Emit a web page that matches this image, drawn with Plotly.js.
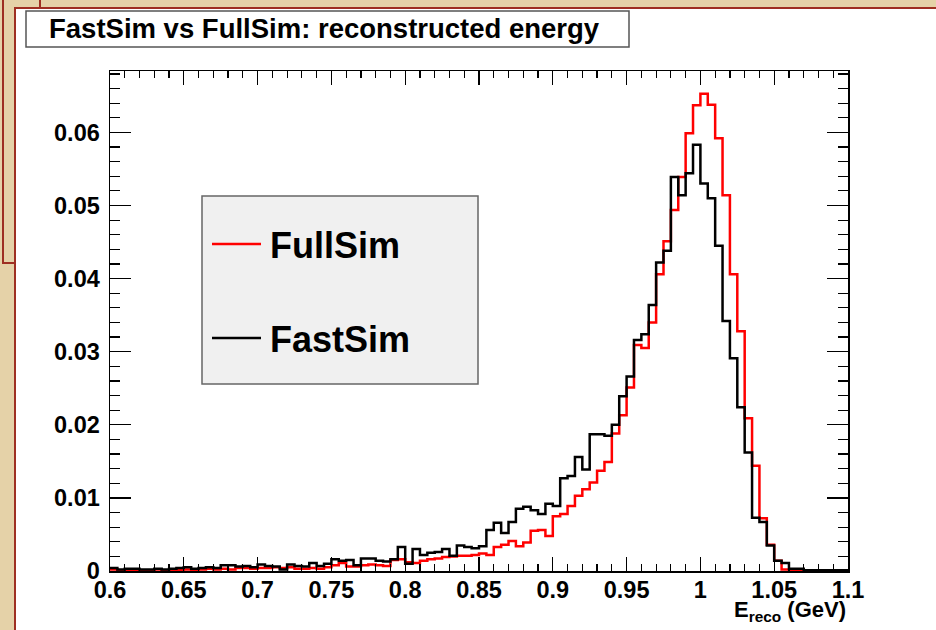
<!DOCTYPE html>
<html>
<head>
<meta charset="utf-8">
<script src="https://cdn.plot.ly/plotly-3.0.1.min.js"></script>
<style>
  html, body { margin: 0; padding: 0; background: #e5d2a8; }
  #chart { width: 936px; height: 630px; }
</style>
</head>
<body>
<div id="chart"></div>
<script>
// Histogram binning: 100 bins from 0.6 to 1.1 GeV
const binLow = 0.6;
const binWidth = 0.005;

// FullSim (red) bin contents
const fullSim = [
  0.0002, 0.0001, 0.0001, 0.0001, 0.0001, 0.0001, 0.0002, 0.0001, 0.0001, 0.0001,
  0.0002, 0.0001, 0.0002, 0.0003, 0.0002, 0.0003, 0.0002, 0.0004, 0.0004, 0.0003,
  0.0004, 0.0004, 0.0005, 0.0004, 0.0005, 0.0003, 0.0003, 0.0004, 0.0003, 0.0005,
  0.0008, 0.0011, 0.0006, 0.0006, 0.0008, 0.0009, 0.0008, 0.0007, 0.0015, 0.0016,
  0.0012, 0.0011, 0.0014, 0.0016, 0.0017, 0.0019, 0.0020, 0.0021, 0.0021, 0.0022,
  0.0024, 0.0022, 0.0033, 0.0036, 0.0041, 0.0034, 0.0039, 0.0055, 0.0056, 0.0048,
  0.0075, 0.0078, 0.0089, 0.0103, 0.0112, 0.0121, 0.0137, 0.0149, 0.0188, 0.0213,
  0.0251, 0.0309, 0.0305, 0.0340, 0.0406, 0.0451, 0.0494, 0.0539, 0.0599, 0.0637,
  0.0653, 0.0638, 0.0592, 0.0514, 0.0406, 0.0328, 0.0209, 0.0144, 0.0072, 0.0036,
  0.0014, 0.0002, 0.0001, 0.0001, 0.0001, 0.0001, 0.0000, 0.0000, 0.0000, 0.0000
];

// FastSim (black) bin contents
const fastSim = [
  0.0004, 0.0002, 0.0003, 0.0003, 0.0002, 0.0002, 0.0003, 0.0002, 0.0003, 0.0004,
  0.0005, 0.0003, 0.0004, 0.0005, 0.0004, 0.0008, 0.0008, 0.0006, 0.0007, 0.0005,
  0.0009, 0.0007, 0.0006, 0.0002, 0.0009, 0.0007, 0.0006, 0.0011, 0.0007, 0.0010,
  0.0016, 0.0014, 0.0015, 0.0008, 0.0017, 0.0017, 0.0014, 0.0013, 0.0016, 0.0033,
  0.0010, 0.0030, 0.0022, 0.0025, 0.0026, 0.0030, 0.0021, 0.0035, 0.0033, 0.0031,
  0.0034, 0.0056, 0.0066, 0.0052, 0.0067, 0.0085, 0.0088, 0.0083, 0.0078, 0.0092,
  0.0089, 0.0127, 0.0130, 0.0156, 0.0139, 0.0187, 0.0187, 0.0185, 0.0200, 0.0239,
  0.0266, 0.0316, 0.0324, 0.0364, 0.0422, 0.0438, 0.0539, 0.0514, 0.0544, 0.0583,
  0.0530, 0.0510, 0.0445, 0.0342, 0.0291, 0.0224, 0.0162, 0.0073, 0.0067, 0.0035,
  0.0014, 0.0011, 0.0003, 0.0003, 0.0001, 0.0001, 0.0001, 0.0001, 0.0001, 0.0001
];

const xTickVals = [0.6, 0.65, 0.7, 0.75, 0.8, 0.85, 0.9, 0.95, 1.0, 1.05, 1.1];
const xTickText = ["0.6", "0.65", "0.7", "0.75", "0.8", "0.85", "0.9", "0.95", "1", "1.05", "1.1"];
const yTickVals = [0, 0.01, 0.02, 0.03, 0.04, 0.05, 0.06];
const yTickText = ["0", "0.01", "0.02", "0.03", "0.04", "0.05", "0.06"];

const titleText = "FastSim vs FullSim: reconstructed energy";
const xTitleText = "E<sub>reco</sub> (GeV)";
const seriesNames = ["FullSim", "FastSim"];
const seriesColors = ["#ff0000", "#000000"];

// ---- layout geometry (pixels) ----
const W = 936, H = 630;
const M = { l: 110, r: 88, t: 71, b: 59 };
const PW = W - M.l - M.r, PH = H - M.t - M.b;
const px = p => (p - M.l) / PW;         // pixel x -> paper x
const py = p => (H - M.b - p) / PH;     // pixel y -> paper y

function stepTrace(vals, name, color) {
  const xs = [], ys = [];
  for (let i = 0; i <= vals.length; i++) {
    xs.push(binLow + i * binWidth);
    ys.push(vals[Math.min(i, vals.length - 1)]);
  }
  return {
    type: 'scatter', mode: 'lines', name: name,
    x: xs, y: ys,
    line: { shape: 'hv', color: color, width: 2.5 },
    hoverinfo: 'skip', showlegend: false
  };
}

const traces = [
  stepTrace(fullSim, seriesNames[0], seriesColors[0]),
  stepTrace(fastSim, seriesNames[1], seriesColors[1])
];

const FONT = 'Liberation Sans, Arial, sans-serif';
const tickFont = { family: FONT, size: 23.5, color: '#000', weight: 'bold' };

const layout = {
  width: W, height: H,
  margin: M,
  paper_bgcolor: '#e5d2a8',
  plot_bgcolor: '#ffffff',
  showlegend: false,
  xaxis: {
    range: [binLow, binLow + fullSim.length * binWidth],
    tickmode: 'array', tickvals: xTickVals, ticktext: xTickText,
    ticks: 'inside', ticklen: 14, tickwidth: 1.2, tickcolor: '#000',
    minor: { dtick: 0.01, tick0: 0.6, ticks: 'inside', ticklen: 7, tickwidth: 1.2, tickcolor: '#000', showgrid: false },
    showline: true, linecolor: '#000', linewidth: 1.5, mirror: 'allticks',
    showgrid: false, zeroline: false,
    tickfont: tickFont, ticklabelstandoff: -3
  },
  yaxis: {
    range: [0, 0.0684],
    tickmode: 'array', tickvals: yTickVals, ticktext: yTickText,
    ticks: 'inside', ticklen: 21, tickwidth: 1.2, tickcolor: '#000',
    minor: { dtick: 0.002, tick0: 0, ticks: 'inside', ticklen: 10, tickwidth: 1.2, tickcolor: '#000', showgrid: false },
    showline: true, linecolor: '#000', linewidth: 1.5, mirror: 'allticks',
    showgrid: false, zeroline: false,
    tickfont: tickFont, ticklabelstandoff: 4
  },
  shapes: [
    // slide frame behind (top-left)
    { type: 'rect', xref: 'paper', yref: 'paper', layer: 'below',
      x0: px(3), x1: px(40), y0: py(263), y1: py(-10),
      line: { color: '#9e2f22', width: 2 }, fillcolor: 'rgba(0,0,0,0)' },
    // white canvas
    { type: 'rect', xref: 'paper', yref: 'paper', layer: 'below',
      x0: px(15), x1: px(W + 20), y0: py(H + 20), y1: py(8),
      line: { color: '#9e2f22', width: 2 }, fillcolor: '#ffffff' },
    // title box
    { type: 'rect', xref: 'paper', yref: 'paper', layer: 'below',
      x0: px(26), x1: px(629), y0: py(47), y1: py(11),
      line: { color: '#555555', width: 1.5 }, fillcolor: '#ffffff' },
    // legend box
    { type: 'rect', xref: 'paper', yref: 'paper', layer: 'above',
      x0: px(202), x1: px(478), y0: py(384), y1: py(196),
      line: { color: '#666666', width: 1.5 }, fillcolor: '#f0f0f0' },
    // legend samples
    { type: 'line', xref: 'paper', yref: 'paper', layer: 'above',
      x0: px(212), x1: px(261), y0: py(244), y1: py(244),
      line: { color: seriesColors[0], width: 2.5 } },
    { type: 'line', xref: 'paper', yref: 'paper', layer: 'above',
      x0: px(212), x1: px(261), y0: py(338), y1: py(338),
      line: { color: seriesColors[1], width: 2.5 } }
  ],
  annotations: [
    { text: '<b>' + titleText + '</b>', xref: 'paper', yref: 'paper',
      x: px(47), y: py(29), xanchor: 'left', yanchor: 'middle', showarrow: false,
      font: { family: FONT, size: 27.5, color: '#000' } },
    { text: '<b>' + seriesNames[0] + '</b>', xref: 'paper', yref: 'paper',
      x: px(268), y: py(245), xanchor: 'left', yanchor: 'middle', showarrow: false,
      font: { family: FONT, size: 36, color: '#000' } },
    { text: '<b>' + seriesNames[1] + '</b>', xref: 'paper', yref: 'paper',
      x: px(268), y: py(339), xanchor: 'left', yanchor: 'middle', showarrow: false,
      font: { family: FONT, size: 36, color: '#000' } },
    { text: '<b>' + xTitleText + '</b>', xref: 'paper', yref: 'paper',
      x: 1, y: py(611), xanchor: 'right', yanchor: 'middle', showarrow: false,
      font: { family: FONT, size: 22, color: '#000' } }
  ]
};

Plotly.newPlot('chart', traces, layout, { displayModeBar: false, staticPlot: true });
</script>
</body>
</html>
